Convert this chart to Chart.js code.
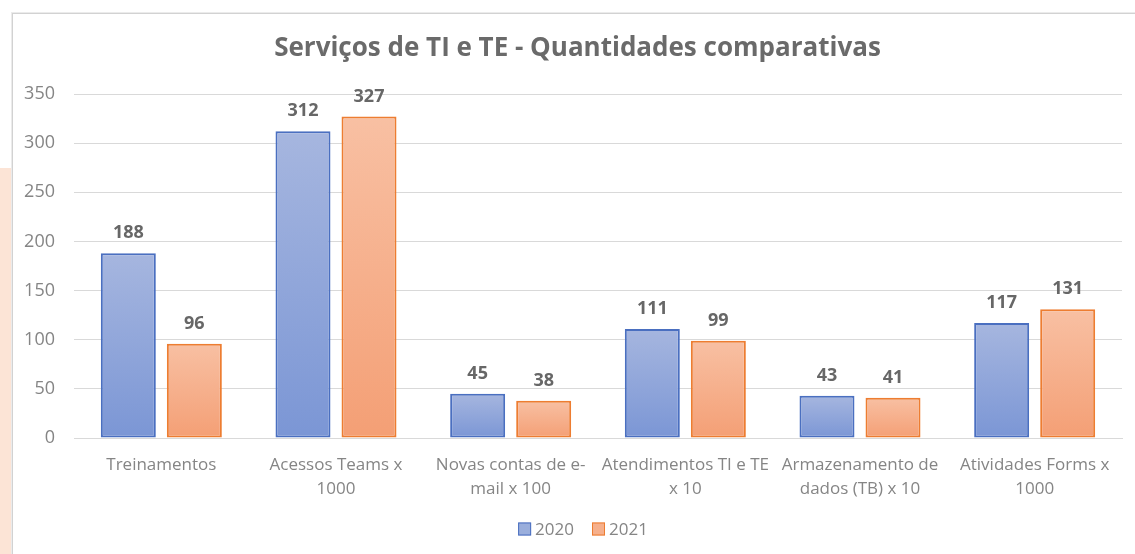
<!DOCTYPE html>
<html lang="pt">
<head>
<meta charset="utf-8">
<title>Serviços de TI e TE - Quantidades comparativas</title>
<script src="https://cdn.jsdelivr.net/npm/chart.js@4/dist/chart.umd.min.js"></script>
<style>
  html, body { margin: 0; padding: 0; background: #ffffff; overflow: hidden; }
  body { width: 1135px; height: 554px; position: relative; }
  .strip { position: absolute; left: 0; top: 168px; width: 12px; height: 386px; background: #fce4d6; }
  .frame {
    position: absolute; left: 12px; top: 13px; width: 1130px; height: 541px;
    border-left: 1px solid #d2d2d2; border-top: 1px solid #d2d2d2;
    box-shadow: -1px -1px 0 #ebebeb;
    background: #ffffff;
  }
  .frame canvas { display: block; }
</style>
</head>
<body>
<div class="strip"></div>
<div class="frame"><canvas id="chart" width="1129" height="540"></canvas></div>
<script>
// Categories (multi-line labels as drawn under the axis)
const categories = [
  'Treinamentos',
  ['Acessos Teams x', '1000'],
  ['Novas contas de e-', 'mail x 100'],
  ['Atendimentos TI e TE', 'x 10'],
  ['Armazenamento de', 'dados (TB) x 10'],
  ['Atividades Forms x', '1000']
];
const seriesNames = ['2020', '2021'];
const values2020 = [188, 312, 45, 111, 43, 117];
const values2021 = [96, 327, 38, 99, 41, 131];
const yTicks = [0, 50, 100, 150, 200, 250, 300, 350];

const FONT = "'Open Sans', 'Noto Sans', sans-serif";
const TEXT_GREY = '#858585';

// Vertical gradient per bar, lighter at the top
function barGradient(top, bottom) {
  return function (ctx) {
    const chart = ctx.chart;
    if (!chart.chartArea || ctx.type !== 'data') return bottom;
    const y = chart.scales.y;
    const y0 = y.getPixelForValue(ctx.raw);
    const y1 = y.getPixelForValue(0);
    if (!isFinite(y0) || !isFinite(y1) || y0 === y1) return bottom;
    const g = chart.ctx.createLinearGradient(0, y0, 0, y1);
    g.addColorStop(0, top);
    g.addColorStop(1, bottom);
    return g;
  };
}

// Value labels above each bar
const valueLabels = {
  id: 'valueLabels',
  afterDatasetsDraw(chart) {
    const ctx = chart.ctx;
    ctx.save();
    ctx.font = "bold 18px " + FONT;
    ctx.fillStyle = '#676767';
    ctx.textAlign = 'center';
    ctx.textBaseline = 'middle';
    chart.data.datasets.forEach((ds, i) => {
      const meta = chart.getDatasetMeta(i);
      meta.data.forEach((bar, j) => {
        ctx.fillText(String(ds.data[j]), bar.x, bar.y - 20);
      });
    });
    ctx.restore();
  }
};

// Compact legend under the category labels: small square, tight gap, name
const legendFill = ['#9aaedc', '#f6b08c'];
const legendStroke = ['#4a6fc0', '#ed7d31'];
const bottomLegend = {
  id: 'bottomLegend',
  afterDraw(chart) {
    const ctx = chart.ctx;
    const box = 13, gapText = 4, gapItem = 18;
    ctx.save();
    ctx.font = "17px " + FONT;
    const items = chart.data.datasets.map((ds, i) => ({
      text: ds.label, i, w: ctx.measureText(ds.label).width
    }));
    const total = items.reduce((s, it) => s + box + gapText + it.w, 0) + gapItem * (items.length - 1);
    const cx = (chart.chartArea.left + chart.chartArea.right) / 2 - 15;
    const cy = chart.chartArea.bottom + 91;
    let x = cx - total / 2;
    items.forEach(it => {
      ctx.fillStyle = legendFill[it.i];
      ctx.fillRect(x, cy - box / 2, box, box);
      ctx.strokeStyle = legendStroke[it.i];
      ctx.lineWidth = 1;
      ctx.strokeRect(x + 0.5, cy - box / 2 + 0.5, box - 1, box - 1);
      x += box + gapText;
      ctx.fillStyle = TEXT_GREY;
      ctx.textAlign = 'left';
      ctx.textBaseline = 'middle';
      ctx.fillText(it.text, x, cy + 1);
      x += it.w + gapItem;
    });
    ctx.restore();
  }
};

new Chart(document.getElementById('chart'), {
  type: 'bar',
  data: {
    labels: categories,
    datasets: [
      {
        label: seriesNames[0],
        data: values2020,
        backgroundColor: barGradient('#a6b6df', '#7b96d5'),
        borderColor: '#4a6fc0',
        borderWidth: 2,
        borderSkipped: false
      },
      {
        label: seriesNames[1],
        data: values2021,
        backgroundColor: barGradient('#f8c0a3', '#f49f75'),
        borderColor: '#ed7d31',
        borderWidth: 2,
        borderSkipped: false
      }
    ]
  },
  plugins: [valueLabels, bottomLegend],
  options: {
    responsive: false,
    animation: false,
    devicePixelRatio: 1,
    categoryPercentage: 0.756,
    barPercentage: 0.833,
    layout: { padding: { left: 0, right: 0, top: 0, bottom: 39 } },
    plugins: {
      title: {
        display: true,
        text: 'Serviços de TI e TE - Quantidades comparativas',
        color: '#6a6a6a',
        font: { family: FONT, size: 26, weight: 'bold', lineHeight: 1.2 },
        padding: { top: 19.4, bottom: 29.4 }
      },
      legend: { display: false },
      tooltip: { enabled: false }
    },
    scales: {
      x: {
        grid: { display: false, drawTicks: false },
        border: { display: true, color: '#d9d9d9', width: 1 },
        ticks: {
          color: TEXT_GREY,
          font: { family: FONT, size: 17, lineHeight: 24 / 17 },
          padding: 15,
          maxRotation: 0,
          autoSkip: false
        },
        afterFit(scale) { scale.height = 77; }
      },
      y: {
        min: 0,
        max: 350,
        afterBuildTicks(scale) { scale.ticks = yTicks.map(v => ({ value: v })); },
        grid: { color: '#d9d9d9', lineWidth: 1, drawTicks: false },
        border: { display: false },
        ticks: {
          color: TEXT_GREY,
          font: { family: FONT, size: 18 },
          padding: 19
        },
        afterFit(scale) { scale.width = 61; }
      },
      // empty right-hand margin inside the frame
      yRight: {
        position: 'right',
        display: true,
        grid: { display: false, drawTicks: false },
        border: { display: false },
        ticks: { display: false },
        afterFit(scale) { scale.width = 20; }
      }
    }
  }
});
</script>
</body>
</html>
